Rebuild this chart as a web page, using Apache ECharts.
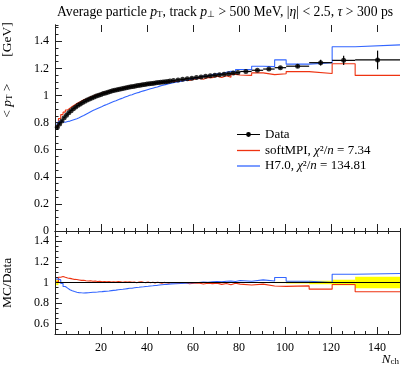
<!DOCTYPE html>
<html><head><meta charset="utf-8">
<script src="https://cdn.jsdelivr.net/npm/echarts@6/dist/echarts.min.js"></script>
<style>html,body{margin:0;padding:0;background:#fff}#c{width:401px;height:368px}</style>
</head><body><div id="c"></div>
<script>
// ---- data ----
const binEdges = [0.5,1.5,2.5,3.5,4.5,5.5,6.5,7.5,8.5,9.5,10.5,11.5,12.5,13.5,14.5,15.5,16.5,17.5,18.5,19.5,20.5,
  21.5,22.5,23.5,24.5,25.5,26.5,27.5,28.5,29.5,30.5,31.5,32.5,33.5,34.5,35.5,36.5,37.5,38.5,39.5,40.5,
  41.5,42.5,43.5,44.5,45.5,46.5,47.5,48.5,49.5,50.5,
  52.5,54.5,56.5,58.5,60.5,62.5,64.5,66.5,68.5,70.5,72.5,74.5,76.5,78.5,80.5,
  85.5,90.5,95.5,100.5,110.5,120.5,130.5,150];
const dataVals = [
  0.765,0.790,0.812,0.835,0.855,0.872,0.888,0.902,0.915,0.927,
  0.938,0.948,0.957,0.966,0.974,0.982,0.989,0.996,1.002,1.008,
  1.014,1.019,1.024,1.029,1.034,1.038,1.042,1.046,1.050,1.054,
  1.057,1.061,1.064,1.067,1.070,1.073,1.076,1.079,1.081,1.084,
  1.086,1.089,1.091,1.093,1.095,1.098,1.100,1.102,1.104,1.106,
  1.110,1.115,1.119,1.124,1.128,1.132,1.137,1.141,1.145,1.149,1.153,1.157,1.161,1.165,1.169,
  1.177,1.186,1.195,1.205,
  1.216,1.242,1.259,1.262];
const dataErrs = [
  0.020,0.006,0.003,0.002,0.002,0.002,0.002,0.002,0.002,0.002,
  0.002,0.002,0.002,0.002,0.002,0.002,0.002,0.002,0.002,0.002,
  0.002,0.002,0.002,0.002,0.002,0.002,0.002,0.002,0.002,0.002,
  0.002,0.002,0.002,0.002,0.002,0.002,0.002,0.002,0.002,0.002,
  0.002,0.002,0.002,0.002,0.002,0.002,0.002,0.002,0.002,0.002,
  0.003,0.003,0.003,0.003,0.003,0.003,0.003,0.003,0.003,0.003,0.003,0.003,0.003,0.003,0.003,
  0.004,0.005,0.006,0.007,
  0.012,0.021,0.034,0.069];
const softVals = [
  0.769,0.830,0.859,0.877,0.893,0.907,0.919,0.929,0.941,0.950,
  0.957,0.969,0.974,0.980,0.990,0.994,1.003,1.006,1.014,1.016,
  1.024,1.025,1.033,1.034,1.042,1.042,1.051,1.052,1.053,1.062,
  1.061,1.068,1.065,1.073,1.068,1.077,1.084,1.081,1.080,1.089,
  1.084,1.092,1.087,1.095,1.094,1.091,1.101,1.099,1.096,1.106,
  1.104,1.104,1.116,1.111,1.120,1.127,1.120,1.132,1.132,1.142,1.132,1.145,1.135,1.156,1.151,
  1.148,1.167,1.154,1.160,
  1.176,1.162,1.234,1.148];
const h7Vals = [
  0.790,0.810,0.805,0.803,0.808,0.811,0.817,0.823,0.829,0.836,
  0.844,0.852,0.861,0.870,0.880,0.889,0.896,0.904,0.912,0.919,
  0.927,0.933,0.940,0.948,0.955,0.961,0.968,0.975,0.981,0.988,
  0.994,1.001,1.005,1.012,1.018,1.023,1.029,1.034,1.039,1.044,
  1.049,1.054,1.059,1.063,1.069,1.074,1.078,1.082,1.086,1.091,
  1.097,1.104,1.111,1.118,1.126,1.132,1.143,1.144,1.154,1.160,1.160,1.171,1.178,1.177,1.192,
  1.191,1.216,1.213,1.263,
  1.231,1.242,1.360,1.373];
const xTickLabels = [20,40,60,80,100,120,140];
const yTickLabels = [0,0.2,0.4,0.6,0.8,1,1.2,1.4];
const ratioTickLabels = [0.6,0.8,1,1.2,1.4];
const legendLabels = {
  'Data': 'Data',
  'softMPI': 'softMPI, {i|χ}²/{i|n} = 7.34',
  'H7.0': 'H7.0, {i|χ}²/{i|n} = 134.81'
};

// ---- build ----
const FONT = 'Liberation Serif';
const RED = '#EE3311', BLUE = '#3366FF';
function stepPts(vals, norm) {
  const out = [];
  for (let i = 0; i < vals.length; i++) {
    const v = norm ? vals[i] / dataVals[i] : vals[i];
    out.push([binEdges[i], v], [binEdges[i + 1], v]);
  }
  return out;
}
const errData = dataVals.map((v, i) => [binEdges[i], binEdges[i + 1], v, dataErrs[i]]);
const ptData = dataVals.map((v, i) => [(binEdges[i] + binEdges[i + 1]) / 2, v]);
const bandData = dataVals.map((v, i) => [binEdges[i], binEdges[i + 1], 1 + dataErrs[i] / v, 1 - dataErrs[i] / v]);

const AX = '#222';
function xMinor(grid, pos, showLine) {
  return {type:'value', gridIndex:grid, position:pos, min:0, max:150, interval:5,
    axisLine:{show:showLine, lineStyle:{color:AX, width:1}},
    axisTick:{show:true, inside:true, length:3, lineStyle:{color:AX}},
    axisLabel:{show:false}, splitLine:{show:false}};
}
function xMajor(grid, pos, labels) {
  return {type:'value', gridIndex:grid, position:pos, min:0, max:150,
    axisLine:{show:false},
    axisTick:{show:true, inside:true, length:7, customValues:xTickLabels, lineStyle:{color:AX}},
    axisLabel:{show:labels, customValues:xTickLabels, margin:8, fontFamily:FONT, fontSize:12, color:'#000'},
    splitLine:{show:false}};
}
function yMinor(grid, min, max, step, pos, showTicks) {
  return {type:'value', gridIndex:grid, position:pos, min:min, max:max, interval:step,
    axisLine:{show:true, lineStyle:{color:AX, width:1}},
    axisTick:{show:showTicks, inside:true, length:3.5, lineStyle:{color:AX}},
    axisLabel:{show:false}, splitLine:{show:false}};
}
function yMajor(grid, min, max, vals) {
  return {type:'value', gridIndex:grid, position:'left', min:min, max:max,
    axisLine:{show:false},
    axisTick:{show:true, inside:true, length:7, customValues:vals, lineStyle:{color:AX}},
    axisLabel:{show:true, customValues:vals, margin:6, fontFamily:FONT, fontSize:12, color:'#000'},
    splitLine:{show:false}};
}
const legText = {fontFamily:FONT, fontSize:13, color:'#000', lineHeight:14,
  rich:{i:{fontFamily:FONT, fontStyle:'italic', fontSize:13, lineHeight:14}}};

const option = {
  animation:false,
  backgroundColor:'#fff',
  title:{
    left:57, top:5, padding:0,
    text:'Average particle {i|p}{s|T}, track {i|p}{s|⊥} > 500 MeV, |{i|η}| < 2.5, {i|τ} > 300 ps',
    textStyle:{fontFamily:FONT, fontSize:13.7, fontWeight:'normal', color:'#000',
      rich:{i:{fontFamily:FONT, fontStyle:'italic', fontSize:13.7}, s:{fontFamily:FONT, fontSize:9, verticalAlign:'bottom', lineHeight:10}}}
  },
  grid:[
    {left:55, right:1, top:25, height:206},
    {left:55, right:1, top:231, height:103}
  ],
  xAxis:[
    xMinor(0,'bottom',true), xMajor(0,'bottom',false),
    xMinor(0,'top',true), xMajor(0,'top',false),
    xMinor(1,'bottom',true), xMajor(1,'bottom',true)
  ],
  yAxis:[
    yMinor(0,0,1.52,0.05,'left',true), yMajor(0,0,1.52,yTickLabels), yMinor(0,0,1.52,0.05,'right',false),
    yMinor(1,0.5,1.5,0.05,'left',true), yMajor(1,0.5,1.5,ratioTickLabels), yMinor(1,0.5,1.5,0.05,'right',false)
  ],
  legend:[
    {left:237, top:127.5, padding:0, orient:'vertical', itemWidth:23, itemHeight:5, itemGap:1.5, itemTextGap:5,
      data:[{name:'Data', icon:'path://M0,2L24,2L24,3L0,3Z M14.5,2.5A2.5,2.5,0,1,1,9.5,2.5A2.5,2.5,0,1,1,14.5,2.5Z',
        itemStyle:{color:'#000'}}],
      formatter:n => legendLabels[n], textStyle:legText},
    {left:237, top:143.5, padding:0, orient:'vertical', itemWidth:23, itemHeight:1.3, itemGap:1.5, itemTextGap:5,
      data:[{name:'softMPI', icon:'rect', itemStyle:{color:RED}}, {name:'H7.0', icon:'rect', itemStyle:{color:BLUE}}],
      formatter:n => legendLabels[n], textStyle:legText}
  ],
  graphic:[
    {type:'text', x:7, y:70, rotation:Math.PI/2, style:{
      text:'< {i|p}{s|T} >        [GeV]', fontFamily:FONT, fontSize:13.5, fill:'#000', align:'center', verticalAlign:'middle',
      rich:{i:{fontFamily:FONT, fontStyle:'italic', fontSize:13.5}, s:{fontFamily:FONT, fontSize:9, verticalAlign:'bottom', lineHeight:10}}}},
    {type:'text', x:7, y:283, rotation:Math.PI/2, style:{
      text:'MC/Data', fontFamily:FONT, fontSize:13.5, fill:'#000', align:'center', verticalAlign:'middle'}},
    {type:'text', right:2, top:353, style:{
      text:'{i|N}{s|ch}', fontFamily:FONT, fontSize:13, fill:'#000',
      rich:{i:{fontFamily:FONT, fontStyle:'italic', fontSize:13}, s:{fontFamily:FONT, fontSize:9, verticalAlign:'bottom', lineHeight:9}}}}
  ],
  series:[
    {name:'softMPI', type:'line', xAxisIndex:0, yAxisIndex:0, data:stepPts(softVals,false), showSymbol:false, symbol:'none',
      lineStyle:{color:RED, width:1.1}, itemStyle:{color:RED}, z:2},
    {name:'H7.0', type:'line', xAxisIndex:0, yAxisIndex:0, data:stepPts(h7Vals,false), showSymbol:false, symbol:'none',
      lineStyle:{color:BLUE, width:1.1}, itemStyle:{color:BLUE}, z:2},
    {name:'Data', type:'custom', xAxisIndex:0, yAxisIndex:0, data:errData, encode:{x:[0,1], y:[2]}, z:3,
      itemStyle:{color:'#000'},
      renderItem:(params, api) => {
        const lo = api.value(0), hi = api.value(1), v = api.value(2), e = api.value(3);
        const c = (lo + hi) / 2;
        const a = api.coord([lo, v]), b = api.coord([hi, v]);
        const t = api.coord([c, v + e]), d = api.coord([c, v - e]);
        return {type:'group', children:[
          {type:'line', shape:{x1:a[0], y1:a[1], x2:b[0], y2:b[1]}, style:{stroke:'#000', lineWidth:1.2}},
          {type:'line', shape:{x1:t[0], y1:t[1], x2:d[0], y2:d[1]}, style:{stroke:'#000', lineWidth:1.2}}
        ]};
      }},
    {name:'Data', type:'scatter', xAxisIndex:0, yAxisIndex:0, data:ptData, symbol:'circle', symbolSize:5,
      itemStyle:{color:'#000'}, z:4},
    {name:'band', type:'custom', xAxisIndex:4, yAxisIndex:3, data:bandData, encode:{x:[0,1], y:[2,3]}, z:1,
      renderItem:(params, api) => {
        const p1 = api.coord([api.value(0), api.value(2)]);
        const p2 = api.coord([api.value(1), api.value(3)]);
        return {type:'rect', shape:{x:p1[0], y:p1[1], width:p2[0]-p1[0], height:p2[1]-p1[1]}, style:{fill:'#FFFF00'}};
      }},
    {name:'softMPI ratio', type:'line', xAxisIndex:4, yAxisIndex:3, data:stepPts(softVals,true), showSymbol:false, symbol:'none',
      lineStyle:{color:RED, width:1.1}, z:2},
    {name:'H7.0 ratio', type:'line', xAxisIndex:4, yAxisIndex:3, data:stepPts(h7Vals,true), showSymbol:false, symbol:'none',
      lineStyle:{color:BLUE, width:1.1}, z:2},
    {name:'Data ratio', type:'line', xAxisIndex:4, yAxisIndex:3, data:stepPts(dataVals,true), showSymbol:false, symbol:'none',
      lineStyle:{color:'#000', width:1.1}, z:3}
  ]
};
const chart = echarts.init(document.getElementById('c'), null, {renderer:'canvas'});
chart.setOption(option);
</script>
</body></html>
